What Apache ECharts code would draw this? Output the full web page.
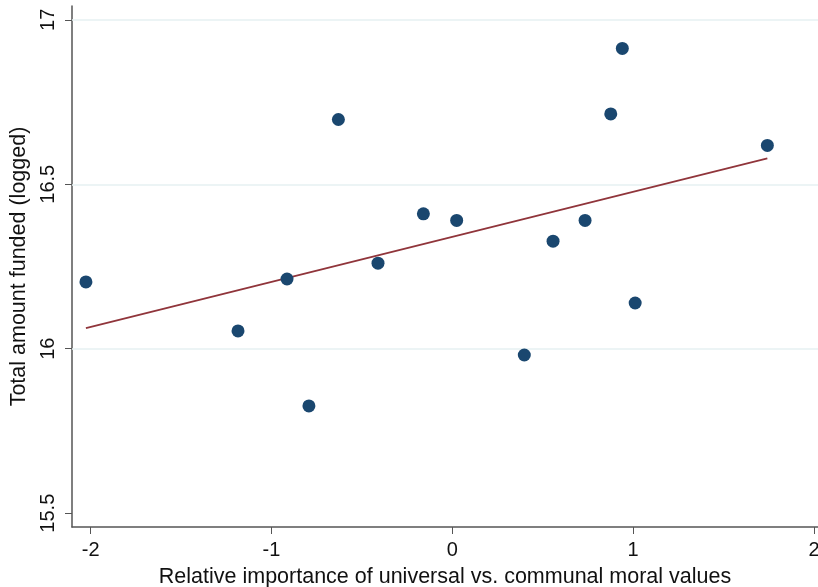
<!DOCTYPE html>
<html>
<head>
<meta charset="utf-8">
<script src="https://cdn.jsdelivr.net/npm/echarts@6/dist/echarts.min.js"></script>
<style>html,body{margin:0;padding:0;background:#fff;}#c{width:818px;height:587px;}</style>
</head>
<body>
<div id="c"></div>
<script>
const xValues = [-2.026, -1.185, -0.914, -0.793, -0.630, -0.411, -0.160, 0.024, 0.398, 0.557, 0.734, 0.876, 0.940, 1.011, 1.742];
const yValues = [16.203, 16.054, 16.212, 15.826, 16.697, 16.260, 16.410, 16.390, 15.981, 16.327, 16.390, 16.714, 16.913, 16.139, 16.618];
const fitX = [-2.026, 1.742];
const fitY = [16.063, 16.579];
const xTicks = [-2, -1, 0, 1, 2];
const yTicks = [15.5, 16, 16.5, 17];
const gridLineValues = [16, 16.5, 17];
const xTitle = 'Relative importance of universal vs. communal moral values';
const yTitle = 'Total amount funded (logged)';

const font = '"Liberation Sans", Arial, Helvetica, sans-serif';
const chart = echarts.init(document.getElementById('c'));
chart.setOption({
  animation: false,
  backgroundColor: '#ffffff',
  grid: { left: 72, right: 0, top: 6, bottom: 60, outerBoundsMode: 'none', containLabel: false },
  xAxis: {
    type: 'value', min: -2.103, max: 2.022,
    axisLine: { show: true, onZero: false, lineStyle: { color: '#555', width: 1.5 } },
    axisTick: { show: true, length: 7, customValues: xTicks, lineStyle: { color: '#555' } },
    axisLabel: { customValues: xTicks, color: '#111', fontSize: 20, fontFamily: font, margin: 13 },
    splitLine: { show: false },
    name: xTitle, nameLocation: 'middle', nameGap: 39,
    nameTextStyle: { color: '#111', fontSize: 21.5, fontFamily: font }
  },
  yAxis: {
    type: 'value', min: 15.458, max: 17.042,
    axisLine: { show: true, onZero: false, lineStyle: { color: '#555', width: 1.5 } },
    axisTick: { show: true, length: 7, customValues: yTicks, lineStyle: { color: '#555' } },
    axisLabel: { customValues: yTicks, rotate: 90, color: '#111', fontSize: 20, fontFamily: font, margin: 14 },
    splitLine: { show: false },
    name: yTitle, nameLocation: 'middle', nameGap: 35,
    nameTextStyle: { color: '#111', fontSize: 21.5, fontFamily: font }
  },
  series: [
    {
      type: 'line', data: fitX.map((x, i) => [x, fitY[i]]), symbol: 'none',
      lineStyle: { color: '#90353b', width: 1.8 }, z: 2,
      markLine: {
        silent: true, symbol: 'none', label: { show: false },
        lineStyle: { color: '#e6f0f2', width: 1.5, type: 'solid' },
        data: gridLineValues.map(v => ({ yAxis: v })), z: 1
      }
    },
    {
      type: 'scatter', data: xValues.map((x, i) => [x, yValues[i]]),
      symbolSize: 13, itemStyle: { color: '#1a476f', opacity: 1 }, z: 3
    }
  ]
});
</script>
</body>
</html>
